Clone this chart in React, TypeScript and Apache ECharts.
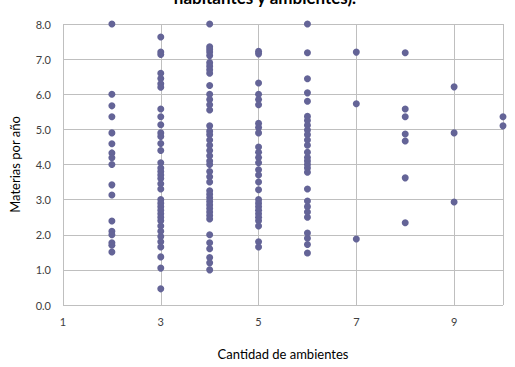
import React, { useEffect, useRef } from "react";
import * as echarts from "echarts";

// Materias por año per number of rooms (x = Cantidad de ambientes)
const rooms2 = [8.0, 6.0, 5.67, 5.36, 4.9, 4.59, 4.33, 4.19, 4.0, 3.42, 3.13, 2.39, 2.1, 2.0, 1.77, 1.7, 1.51];
const rooms3 = [7.63, 7.2, 7.13, 6.6, 6.45, 6.3, 6.2, 5.58, 5.36, 5.13, 4.9, 4.8, 4.6, 4.4, 4.05, 3.9, 3.8, 3.7, 3.6, 3.45, 3.3, 3.0, 2.9, 2.8, 2.7, 2.6, 2.5, 2.4, 2.25, 2.1, 1.95, 1.8, 1.65, 1.37, 1.05, 0.46];
const rooms4 = [8.0, 7.35, 7.28, 7.2, 7.1, 6.9, 6.8, 6.7, 6.6, 6.25, 6.0, 5.85, 5.7, 5.55, 5.1, 4.95, 4.85, 4.7, 4.55, 4.4, 4.25, 4.1, 4.0, 3.8, 3.65, 3.5, 3.25, 3.15, 3.05, 2.95, 2.85, 2.75, 2.65, 2.55, 2.45, 2.0, 1.77, 1.6, 1.35, 1.2, 1.0];
const rooms5 = [7.22, 7.15, 6.32, 6.0, 5.85, 5.7, 5.17, 5.05, 4.9, 4.5, 4.35, 4.2, 4.05, 3.85, 3.7, 3.5, 3.28, 3.0, 2.9, 2.8, 2.7, 2.6, 2.5, 2.4, 2.25, 1.8, 1.65];
const rooms6 = [8.0, 7.18, 6.44, 6.04, 5.8, 5.37, 5.25, 5.12, 4.98, 4.85, 4.7, 4.55, 4.35, 4.2, 4.1, 4.0, 3.9, 3.78, 3.3, 2.96, 2.8, 2.65, 2.5, 2.05, 1.9, 1.72, 1.48];
const rooms7 = [7.2, 5.73, 1.88];
const rooms8 = [7.18, 5.58, 5.36, 4.87, 4.67, 3.62, 2.34];
const rooms9 = [6.21, 4.9, 2.93];
const rooms10 = [5.36, 5.1];

const groups: [number, number[]][] = [
  [2, rooms2], [3, rooms3], [4, rooms4], [5, rooms5], [6, rooms6],
  [7, rooms7], [8, rooms8], [9, rooms9], [10, rooms10],
];

const X_MIN = 1;
const X_MAX = 10;
// axis is drawn with an offset so ticks start at a multiple of the interval
const OFFSET = X_MIN;

const titleText = "habitantes y ambientes).";
const xName = "Cantidad de ambientes";
const yName = "Materias por año";

const FONT = "Lato, 'Open Sans', sans-serif";
const GRID = "#bfbfbf";

export default function App() {
  const ref = useRef<HTMLDivElement>(null);
  useEffect(() => {
    if (!ref.current) return;
    const chart = echarts.init(ref.current, undefined, { renderer: "svg" });
    const data: number[][] = [];
    groups.forEach(([x, ys]) => ys.forEach((y) => data.push([x - OFFSET, y])));
    chart.setOption({
      animation: false,
      backgroundColor: "#ffffff",
      grid: { left: 57, right: 12, top: 24, bottom: 62, containLabel: false },
      graphic: [
        {
          type: "text",
          x: 265,
          y: 6,
          style: {
            text: titleText,
            textAlign: "center",
            textVerticalAlign: "bottom",
            font: `bold 17px ${FONT}`,
            fill: "#000000",
          },
        },
      ],
      xAxis: {
        type: "value",
        min: X_MIN - OFFSET,
        max: X_MAX - OFFSET,
        interval: 2,
        name: xName,
        nameLocation: "middle",
        nameGap: 42,
        nameTextStyle: { fontFamily: FONT, fontSize: 13, color: "#000000" },
        axisLine: { show: false },
        axisTick: { show: false },
        axisLabel: {
          showMaxLabel: false,
          margin: 11,
          fontFamily: FONT,
          fontSize: 11,
          color: "#404040",
          formatter: (v: number) => String(v + OFFSET),
        },
        splitLine: { show: true, lineStyle: { color: GRID, width: 1 } },
      },
      yAxis: {
        type: "value",
        min: 0,
        max: 8,
        interval: 1,
        name: yName,
        nameLocation: "middle",
        nameGap: 42,
        nameRotate: 90,
        nameTextStyle: { fontFamily: FONT, fontSize: 13, color: "#000000" },
        axisLine: { show: false },
        axisTick: { show: false },
        axisLabel: {
          margin: 12,
          fontFamily: FONT,
          fontSize: 11,
          color: "#404040",
          formatter: (v: number) => v.toFixed(1),
        },
        splitLine: { show: true, lineStyle: { color: GRID, width: 1 } },
      },
      series: [
        {
          type: "scatter",
          data,
          symbol: "circle",
          symbolSize: 7,
          itemStyle: { color: "#646497", opacity: 1 },
        },
      ],
    });
    return () => chart.dispose();
  }, []);
  return (
    <div
      ref={ref}
      style={{ position: "absolute", left: 0, top: 0, width: 515, height: 367 }}
    />
  );
}
